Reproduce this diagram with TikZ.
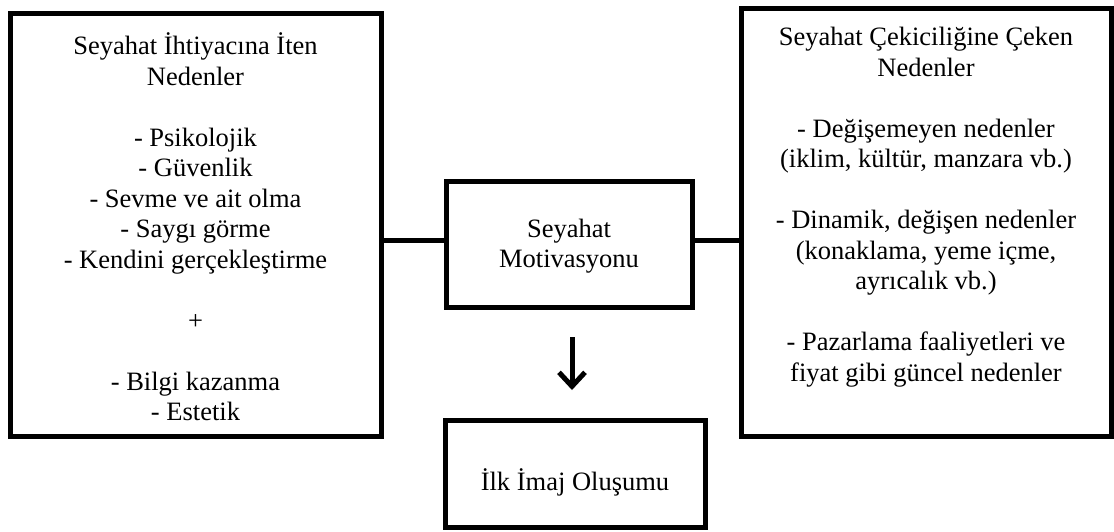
\documentclass[tikz,border=0pt]{standalone}
\usepackage{fontspec}
\setmainfont{Liberation Serif}
\usetikzlibrary{arrows.meta}
\tikzset{
  boxnode/.style={draw=black, line width=5pt, fill=white, inner sep=0pt},
  txtnode/.style={align=center, inner sep=0pt, font=\fontsize{26.5}{30.5}\selectfont},
  conn/.style={draw=black, line width=5pt},
  arr/.style={draw=black, line width=5pt, -{Straight Barb[length=14pt,width=26pt,line width=5pt]}}
}
\begin{document}
\begin{tikzpicture}[x=1pt,y=-1pt]
\useasboundingbox (0,0) rectangle (1114,531);
% boxes
\node[boxnode, minimum width=371pt, minimum height=423pt] (lbox) at (195.5,224.5) {};
\node[boxnode, minimum width=370pt, minimum height=428pt] (rbox) at (926,222) {};
\node[boxnode, minimum width=246pt, minimum height=126pt] (mbox) at (569,244) {};
\node[boxnode, minimum width=260pt, minimum height=107pt] (bbox) at (575,473.5) {};
% texts
\node[txtnode] (ltext) at (195.5,227) {Seyahat İhtiyacına İten\\Nedenler\\[30.5pt]- Psikolojik\\- Güvenlik\\- Sevme ve ait olma\\- Saygı görme\\- Kendini gerçekleştirme\\[30.5pt]+\\[30.5pt]- Bilgi kazanma\\- Estetik};
\node[txtnode] (rtext) at (926,207) {Seyahat Çekiciliğine Çeken\\Nedenler\\[30.5pt]- Değişemeyen nedenler\\(iklim, kültür, manzara vb.)\\[30.5pt]- Dinamik, değişen nedenler\\(konaklama, yeme içme,\\ayrıcalık vb.)\\[30.5pt]- Pazarlama faaliyetleri ve\\fiyat gibi güncel nedenler};
\node[txtnode] (mtext) at (569,246) {Seyahat\\Motivasyonu};
\node[txtnode] (btext) at (575,482) {İlk İmaj Oluşumu};
% connectors
\coordinate (cy) at (569,240);
\draw[conn] (cy -| lbox.east) -- (cy -| mbox.west);
\draw[conn] (cy -| mbox.east) -- (cy -| rbox.west);
\coordinate (atop) at (572,337);
\coordinate (abot) at (572,390);
\draw[arr] (atop) -- (abot);
\end{tikzpicture}
\end{document}
